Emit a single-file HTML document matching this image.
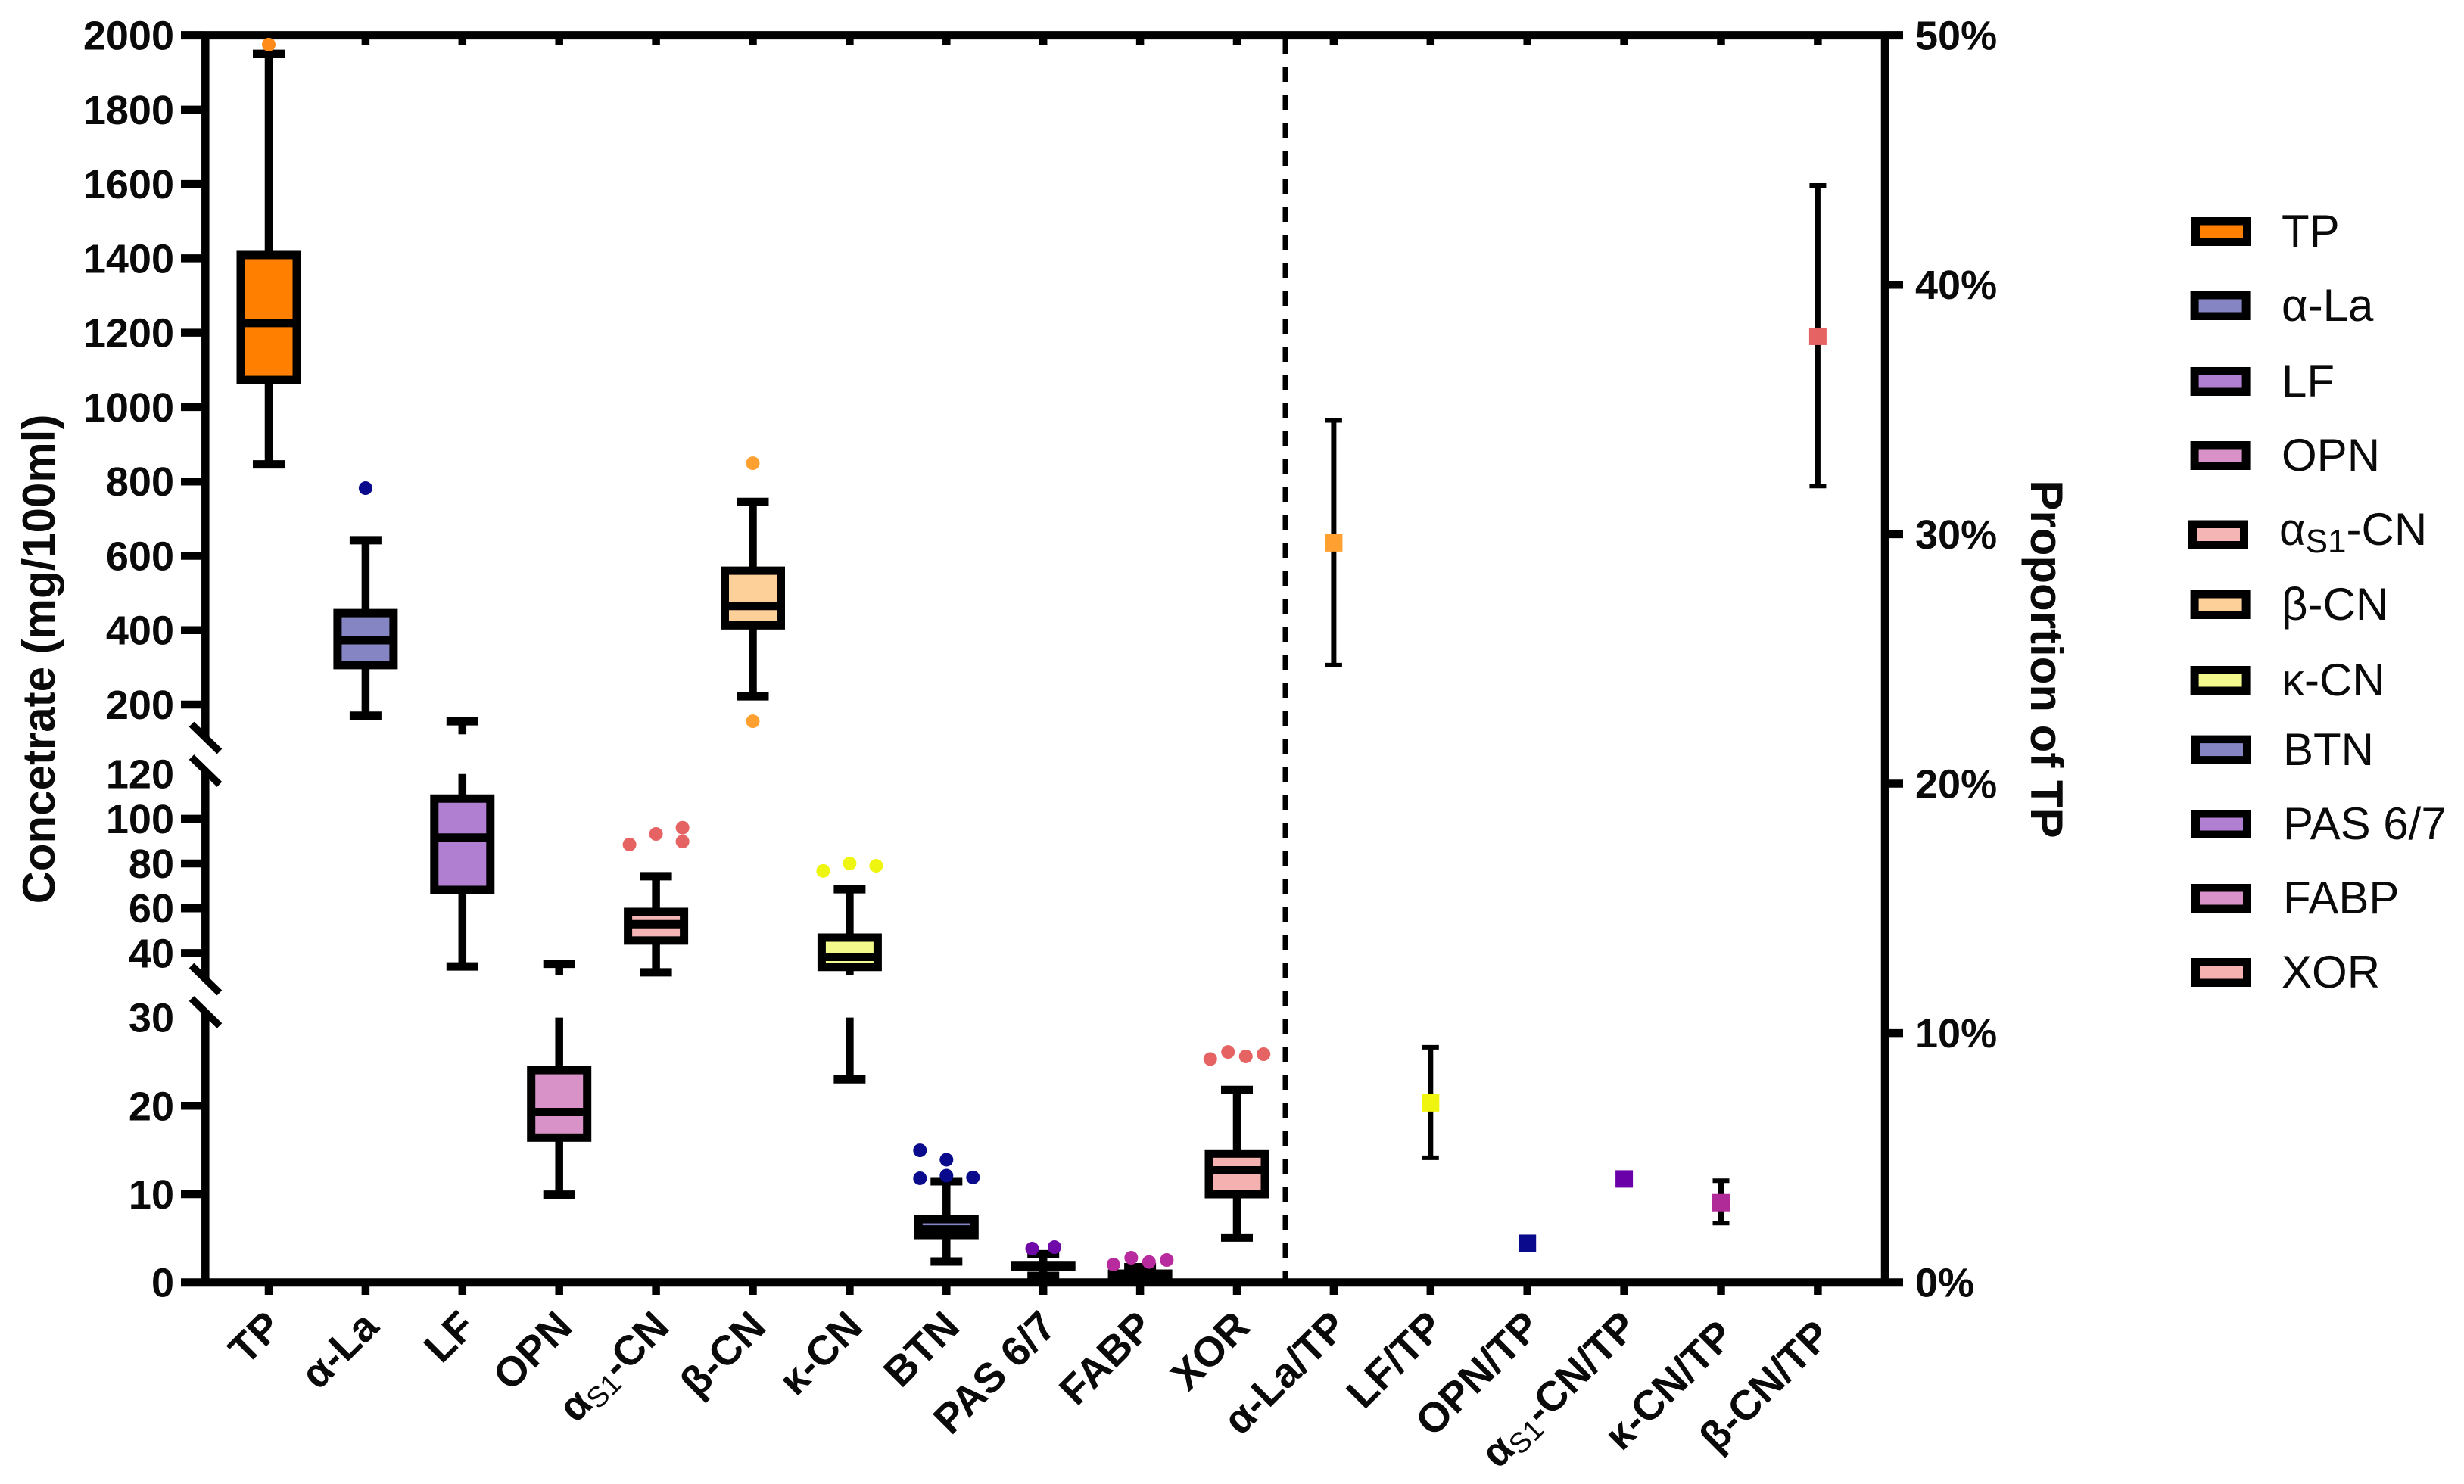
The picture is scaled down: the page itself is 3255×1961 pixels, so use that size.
<!DOCTYPE html>
<html lang="en">
<head>
<meta charset="utf-8">
<title>Protein concentrate box plot</title>
<style>
html,body{margin:0;padding:0;background:#fff;}
svg{display:block;font-family:"Liberation Sans",Arial,sans-serif;}
text{fill:#0a0a0a;}
.tick{font-size:54px;font-weight:bold;}
.xl{font-size:55px;font-weight:bold;}
.title{font-size:60px;font-weight:bold;}
.lg{font-size:60px;}
</style>
</head>
<body>
<svg id="chart" xmlns="http://www.w3.org/2000/svg" width="3255" height="1961" viewBox="0 0 3255 1961">
<rect width="3255" height="1961" fill="#fff"/>
<text class="title" transform="translate(72,871) rotate(-90)" text-anchor="middle">Concetrate (mg/100ml)</text>
<text class="title" transform="translate(2683,871) rotate(90)" text-anchor="middle">Proportion of TP</text>
<g id="legend">
<g><rect x="2895" y="287" width="79" height="38" fill="#000"/><rect x="2906" y="297.500" width="57" height="17" fill="#ff8000"/><text class="lg" x="3014" y="326">TP</text></g>
<g><rect x="2893.600" y="385" width="79" height="38" fill="#000"/><rect x="2904.600" y="395.500" width="57" height="17" fill="#8585c4"/><text class="lg" x="3014" y="424">α-La</text></g>
<g><rect x="2893.600" y="485" width="79" height="38" fill="#000"/><rect x="2904.600" y="495.500" width="57" height="17" fill="#b07fd2"/><text class="lg" x="3014" y="524">LF</text></g>
<g><rect x="2893.600" y="583" width="79" height="38" fill="#000"/><rect x="2904.600" y="593.500" width="57" height="17" fill="#d992c8"/><text class="lg" x="3014" y="622">OPN</text></g>
<g><rect x="2891" y="687.500" width="79" height="38" fill="#000"/><rect x="2902" y="698" width="57" height="17" fill="#f5b5b5"/><text class="lg" x="3011" y="720">α<tspan font-size="44" dy="10">S1</tspan><tspan dy="-10">-CN</tspan></text></g>
<g><rect x="2893.600" y="780" width="79" height="38" fill="#000"/><rect x="2904.600" y="790.500" width="57" height="17" fill="#fdd09a"/><text class="lg" x="3014" y="819">β-CN</text></g>
<g><rect x="2893.600" y="880" width="79" height="38" fill="#000"/><rect x="2904.600" y="890.500" width="57" height="17" fill="#f4f98c"/><text class="lg" x="3014" y="919">κ-CN</text></g>
<g><rect x="2895" y="971.600" width="79" height="38" fill="#000"/><rect x="2906" y="982.100" width="57" height="17" fill="#8585c4"/><text class="lg" x="3016" y="1011">BTN</text></g>
<g><rect x="2895" y="1070" width="79" height="38" fill="#000"/><rect x="2906" y="1080.500" width="57" height="17" fill="#b07fd2"/><text class="lg" x="3016" y="1109">PAS 6/7</text></g>
<g><rect x="2895" y="1168" width="79" height="38" fill="#000"/><rect x="2906" y="1178.500" width="57" height="17" fill="#d992c8"/><text class="lg" x="3016" y="1207">FABP</text></g>
<g><rect x="2895" y="1266" width="79" height="38" fill="#000"/><rect x="2906" y="1276.500" width="57" height="17" fill="#f5b0b0"/><text class="lg" x="3014" y="1305">XOR</text></g>
</g>
</svg>
<script>
const boxCategories = ['TP','α-La','LF','OPN','αS1-CN','β-CN','κ-CN','BTN','PAS 6/7','FABP','XOR'];
const ratioCategories = ['α-La/TP','LF/TP','OPN/TP','αS1-CN/TP','κ-CN/TP','β-CN/TP'];
const q1Values = [1073,306,68.2,16.4,45.6,413,33.8,5.37,1.75,0.3,10.0];
const medianValues = [1226,373,91.6,19.3,52.9,465,38.3,6.0,1.86,0.7,12.7];
const q3Values = [1409,446,109,24.05,58.4,560,46.9,7.17,1.97,1.0,14.6];
const whiskerLowValues = [846,170,34,9.95,31.4,222,23,2.37,0.75,0.1,5.08];
const whiskerHighValues = [1950,642,155,35.2,74.3,745,68.5,11.46,3.2,1.73,21.8];
const outlierValues = [[1975],[782],[],[],[88.5,93.2,96,89.8],[849,155],[76.7,80,79],[14.96,13.9,11.8,12.1,11.9],[3.83,4.0],[2.03,2.8,2.31,2.54],[25.3,26.1,25.6,25.85]];
const outlierColumns = [[0],[0],[],[],[0,1,2,2],[0,0],[0,1,2],[0,1,0,1,2],[0,1],[0,1,2,3],[0,1,2,3]];
const boxFills = ['#ff8000','#8585c4','#b07fd2','#d992c8','#f5b5b5','#fdd09a','#f4f98c','#8585c4','#b07fd2','#d992c8','#f5b0b0'];
const outlierColors = ['#ff8c1a','#0a0a8c','#000','#000','#e56363','#ffa030','#eef50f','#0a0a8c','#6f0aa8','#b82b9e','#e56363'];
const ratioMeans = [29.65,7.2,1.57,4.15,3.2,37.93];
const ratioLows = [24.75,5.0,1.57,4.15,2.38,31.93];
const ratioHighs = [34.56,9.43,1.57,4.15,4.08,43.98];
const ratioColors = ['#ffa030','#f0f510','#0a0a8c','#6a00a8','#b02a98','#e56363'];
const leftTickValues = [2000,1800,1600,1400,1200,1000,800,600,400,200,120,100,80,60,40,30,20,10,0];
const unmarkedLeftTicks = [120,30];
const rightTickValues = [50,40,30,20,10,0];

const svg = document.getElementById('chart');
const NS = 'http://www.w3.org/2000/svg';
const segments = [
  {min:120, max:2000, yBottom:970.3, yTop:46.6},
  {min:30, max:120, yBottom:1289, yTop:1022.7},
  {min:0, max:30, yBottom:1694.7, yTop:1344.6}
];
function segmentFor(v){ return v > 120 ? segments[0] : (v > 30 ? segments[1] : segments[2]); }
function yLeft(v){
  const s = segmentFor(v);
  return s.yBottom - (v - s.min) * (s.yBottom - s.yTop) / (s.max - s.min);
}
function yRight(p){ return 1694.7 - p * (1694.7 - 46.6) / 50; }
function xAt(i){ return 355 + 127.9 * i; }
function make(tag, attrs, parent){
  const el = document.createElementNS(NS, tag);
  for (const k in attrs) el.setAttribute(k, attrs[k]);
  (parent || svg).appendChild(el);
  return el;
}
function seg(x1,y1,x2,y2,w,parent,color){
  return make('line',{x1:x1,y1:y1,x2:x2,y2:y2,stroke:color||'#000','stroke-width':w},parent);
}

/* axes */
const axes = make('g',{});


let el;
el = seg(239,46.6,2514,46.6,11,axes);


el = seg(239,1694.7,2514,1694.7,11,axes);


el = seg(2490,46.6,2490,1694.7,10.5,axes);


[[46.6,975],[1018,1294],[1338,1694.7]].forEach(function(r){
  const part = seg(271.3,r[0],271.3,r[1],10.5,axes);
  
  
});
[975,1018.5,1294,1337.5].forEach(function(cy){
  const mark = seg(253,cy-18,290,cy+18,9.5,axes);
  
  
});
const sep = make('line',{x1:1698,y1:52,x2:1698,y2:1690,stroke:'#000','stroke-width':7,'stroke-dasharray':'20 17'});



/* left ticks */
leftTickValues.forEach(function(v){
  const y = yLeft(v);
  if (unmarkedLeftTicks.indexOf(v) < 0) {
    const t = seg(239,y,271,y,10.5,axes);
    
    
  }
  const lab = make('text',{class:'tick',x:230,y:y+19,'text-anchor':'end'});
  lab.textContent = v;
  
  
});
/* right ticks */
rightTickValues.forEach(function(p){
  const y = yRight(p);
  const t = seg(2490,y,2514,y,10.5,axes);
  
  
  const lab = make('text',{class:'tick',x:2530,y:y+19,'text-anchor':'start'});
  lab.textContent = p + '%';
  
  
});
/* x ticks + labels */
boxCategories.concat(ratioCategories).forEach(function(name,i){
  const x = xAt(i);
  const b = seg(x,1694.7,x,1711,10.5,axes);
  
  
  const t = seg(x,46.6,x,60,10.5,axes);
  
  
  /* the last two ratio labels sit slightly lower in the figure */
  const labelY = i >= boxCategories.length + 4 ? 1768 : 1756;
  const lab = make('text',{class:'xl','text-anchor':'end',transform:'translate('+(x+20)+','+labelY+') rotate(-45)'});
  
  
  if (name.indexOf('S1') >= 0) {
    const parts = name.split('S1');
    make('tspan',{},lab).textContent = parts[0];
    const sub = make('tspan',{'font-size':38,'font-weight':'normal',dy:8},lab);
    sub.textContent = 'S1';
    make('tspan',{dy:-8},lab).textContent = parts[1];
  } else {
    lab.textContent = name;
  }
});

/* draw a whisker between two values, broken across axis segments */
function whisker(x,a,b,parent){
  const lo = Math.min(a,b), hi = Math.max(a,b);
  segments.forEach(function(s){
    const l = Math.max(lo,s.min), h = Math.min(hi,s.max);
    if (h <= l) return;
    const y1 = s.yBottom - (l - s.min) * (s.yBottom - s.yTop) / (s.max - s.min);
    const y2 = s.yBottom - (h - s.min) * (s.yBottom - s.yTop) / (s.max - s.min);
    const w = seg(x,y1,x,y2,10.5,parent);
    
    
  });
}
/* box series */
boxCategories.forEach(function(name,i){
  const x = xAt(i);
  const g = make('g',{});
  
  
  whisker(x,q3Values[i],whiskerHighValues[i],g);
  whisker(x,q1Values[i],whiskerLowValues[i],g);
  [whiskerHighValues[i],whiskerLowValues[i]].forEach(function(v){
    const c = seg(x-21,yLeft(v),x+21,yLeft(v),11,g);
    
    
  });
  const yTop = yLeft(q3Values[i]), yBot = yLeft(q1Values[i]);
  const r = make('rect',{x:x-37,y:yTop,width:74,height:yBot-yTop,fill:boxFills[i],stroke:'#000','stroke-width':11},g);
  
  
  const m = seg(x-37,yLeft(medianValues[i]),x+37,yLeft(medianValues[i]),11,g);
  
  
  const cols = outlierColumns[i];
  const n = cols.length ? Math.max.apply(null,cols)+1 : 0;
  const step = n === 2 ? 29.5 : (n === 4 ? 23.5 : 35);
  outlierValues[i].forEach(function(v,j){
    const c = make('circle',{cx:x+(cols[j]-(n-1)/2)*step,cy:yLeft(v),r:9,fill:outlierColors[i]},g);
    
    
  });
});
/* ratio series */
ratioCategories.forEach(function(name,i){
  const x = xAt(i + boxCategories.length);
  const g = make('g',{});
  
  
  const hi = yRight(ratioHighs[i]), lo = yRight(ratioLows[i]), my = yRight(ratioMeans[i]);
  if (ratioHighs[i] > ratioLows[i]) {
    const bar = seg(x,hi,x,lo,7,g);
    
    
    [hi,lo].forEach(function(y){
      const c = seg(x-11,y,x+11,y,6,g);
      
      
    });
  }
  const mk = make('rect',{x:x-11.5,y:my-11.5,width:23,height:23,fill:ratioColors[i]},g);
  
  
});
</script>
</body>
</html>
